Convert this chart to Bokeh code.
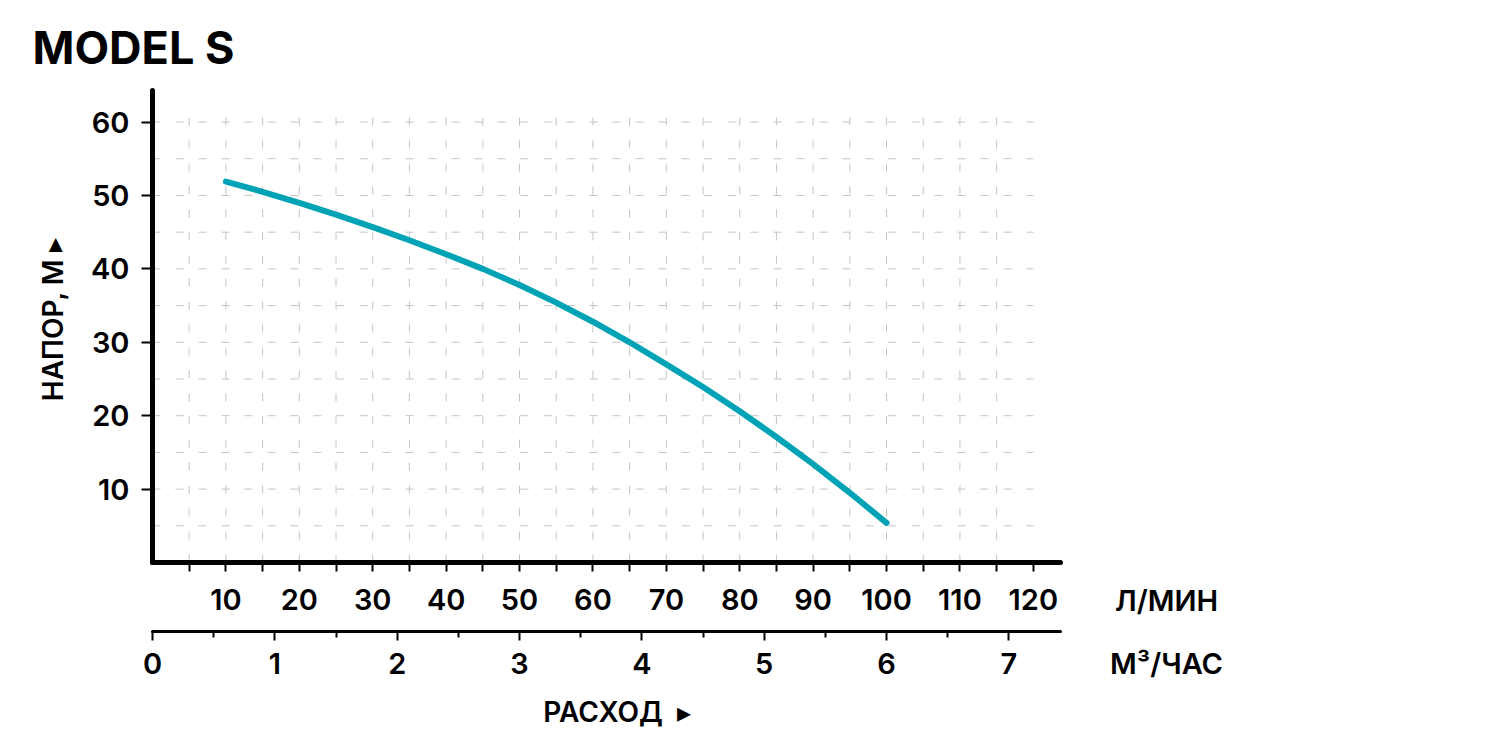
from bokeh.plotting import figure
from bokeh.models import LinearAxis, Range1d, FixedTicker
from bokeh.layouts import row
from bokeh.embed import file_html
from bokeh.resources import INLINE

# flow in l/min and head in m
flow_lpm = [10, 15, 20, 25, 30, 35, 40, 45, 50, 55, 60, 65, 70, 75, 80, 85, 90, 95, 100]
head_m = [51.9, 50.5, 49.0, 47.4, 45.7, 43.9, 42.0, 40.0, 37.8, 35.4,
          32.8, 30.0, 27.0, 23.9, 20.6, 17.1, 13.4, 9.5, 5.4]

lpm_ticks = [10, 20, 30, 40, 50, 60, 70, 80, 90, 100, 110, 120]
lpm_minor = [5, 15, 25, 35, 45, 55, 65, 75, 85, 95, 105, 115]
m3h_ticks = [0, 1, 2, 3, 4, 5, 6, 7]
m3h_minor = [0.5, 1.5, 2.5, 3.5, 4.5, 5.5, 6.5]
head_ticks = [10, 20, 30, 40, 50, 60]
grid_x = [5, 10, 15, 20, 25, 30, 35, 40, 45, 50, 55, 60, 65, 70, 75, 80, 85, 90, 95, 100, 105, 110, 115]
grid_y = [5, 10, 15, 20, 25, 30, 35, 40, 45, 50, 55, 60]
units = ["Л/МИН", "М³/ЧАС"]

FONT = "Inter SemiBold"
TEAL = "#00a3b5"
X_MAX = 123.7
LPM_PER_M3H = 1000 / 60
NB = "\u00a0"
UNIT_X = 98  # centre of the unit captions, px from the right of the chart

p = figure(frame_width=908, frame_height=472,
           x_range=(0, X_MAX), y_range=(0, 64.3),
           min_border_left=152, min_border_top=90,
           min_border_right=8, min_border_bottom=180,
           output_backend="svg", toolbar_location=None)
p.outline_line_color = None
p.xgrid.visible = False
p.ygrid.visible = False

p.title.text = "MODEL S"
p.title.align = "left"
p.title.offset = -120
p.title.text_font = "Inter"
p.title.text_font_style = "bold"
p.title.text_font_size = "45px"
p.title.text_color = "black"
p.title.standoff = 32

# dashed grid
p.segment(x0=0, y0=grid_y, x1=lpm_ticks[-1], y1=grid_y,
          line_color="#c4c4c4", line_width=1, line_dash="8 15")
p.segment(x0=grid_x, y0=0, x1=grid_x, y1=grid_y[-1] + 2.5,
          line_color="#c4c4c4", line_width=1, line_dash="8 15")

p.line(flow_lpm, head_m, line_color=TEAL, line_width=6, line_cap="round", line_join="round")

def style_axis(ax, size="29px"):
    ax.axis_line_cap = "round"
    ax.major_tick_in = 0
    ax.minor_tick_in = 0
    ax.major_tick_line_width = 2
    ax.minor_tick_line_width = 2
    ax.major_label_text_font = FONT
    ax.major_label_text_font_size = size
    ax.major_label_text_color = "black"
    ax.axis_label_text_font = FONT
    ax.axis_label_text_font_style = "normal"
    ax.axis_label_text_font_size = "28px"
    ax.axis_label_text_color = "black"

def lpm_row(ax):
    ax.axis_line_width = 5
    ax.major_tick_out = 9
    ax.minor_tick_out = 9
    ax.major_label_standoff = 17
    ax.axis_label = " "
    ax.axis_label_text_font_size = "6px"
    ax.axis_label_standoff = 9

def m3h_row(ax):
    ax.axis_line_width = 3
    ax.major_tick_out = 9
    ax.minor_tick_out = 6
    ax.major_label_standoff = 12

# l/min axis
xa = p.xaxis[0]
style_axis(xa)
lpm_row(xa)
xa.ticker = FixedTicker(ticks=lpm_ticks, minor_ticks=lpm_minor)

# head axis
ya = p.yaxis[0]
style_axis(ya)
ya.ticker = FixedTicker(ticks=head_ticks, minor_ticks=[])
ya.axis_line_width = 5
ya.major_tick_out = 11
ya.major_label_standoff = 12
ya.axis_label = NB * 2 + "НАПОР, М" + NB + "▸"
ya.axis_label_standoff = 18

# m3/h axis
p.extra_x_ranges = {"m3h": Range1d(0, X_MAX / LPM_PER_M3H)}
xb = LinearAxis(x_range_name="m3h")
style_axis(xb)
m3h_row(xb)
xb.ticker = FixedTicker(ticks=m3h_ticks, minor_ticks=m3h_minor)
xb.axis_label = NB * 3 + "РАСХОД" + NB * 2 + "▸"
xb.axis_label_standoff = 18
p.add_layout(xb, "below")

# unit captions: a narrow plot beside the chart whose hidden axes
# sit on the same rows as the two scales
q = figure(frame_width=300, frame_height=472, x_range=(0, 300), y_range=p.y_range,
           min_border_left=0, min_border_right=0, min_border_top=90, min_border_bottom=180,
           y_axis_location=None, output_backend="svg", toolbar_location=None)
q.title.visible = False
q.outline_line_color = None
q.xgrid.visible = False
q.ygrid.visible = False

ua = q.xaxis[0]
ub = LinearAxis()
q.add_layout(ub, "below")
for ax, setup, unit in [(ua, lpm_row, units[0]), (ub, m3h_row, units[1])]:
    style_axis(ax)
    setup(ax)
    ax.ticker = FixedTicker(ticks=[UNIT_X], minor_ticks=[])
    ax.major_label_overrides = {UNIT_X: unit}
    ax.axis_line_color = None
    ax.major_tick_line_color = None
    ax.minor_tick_line_color = None
# hidden rows sit a little lower than the drawn ones, pull them up
ua.major_label_standoff = 11
ua.axis_label_standoff = 0
ub.major_label_standoff = 6

layout = row(p, q)
open("out.html", "w").write(file_html(layout, INLINE))
